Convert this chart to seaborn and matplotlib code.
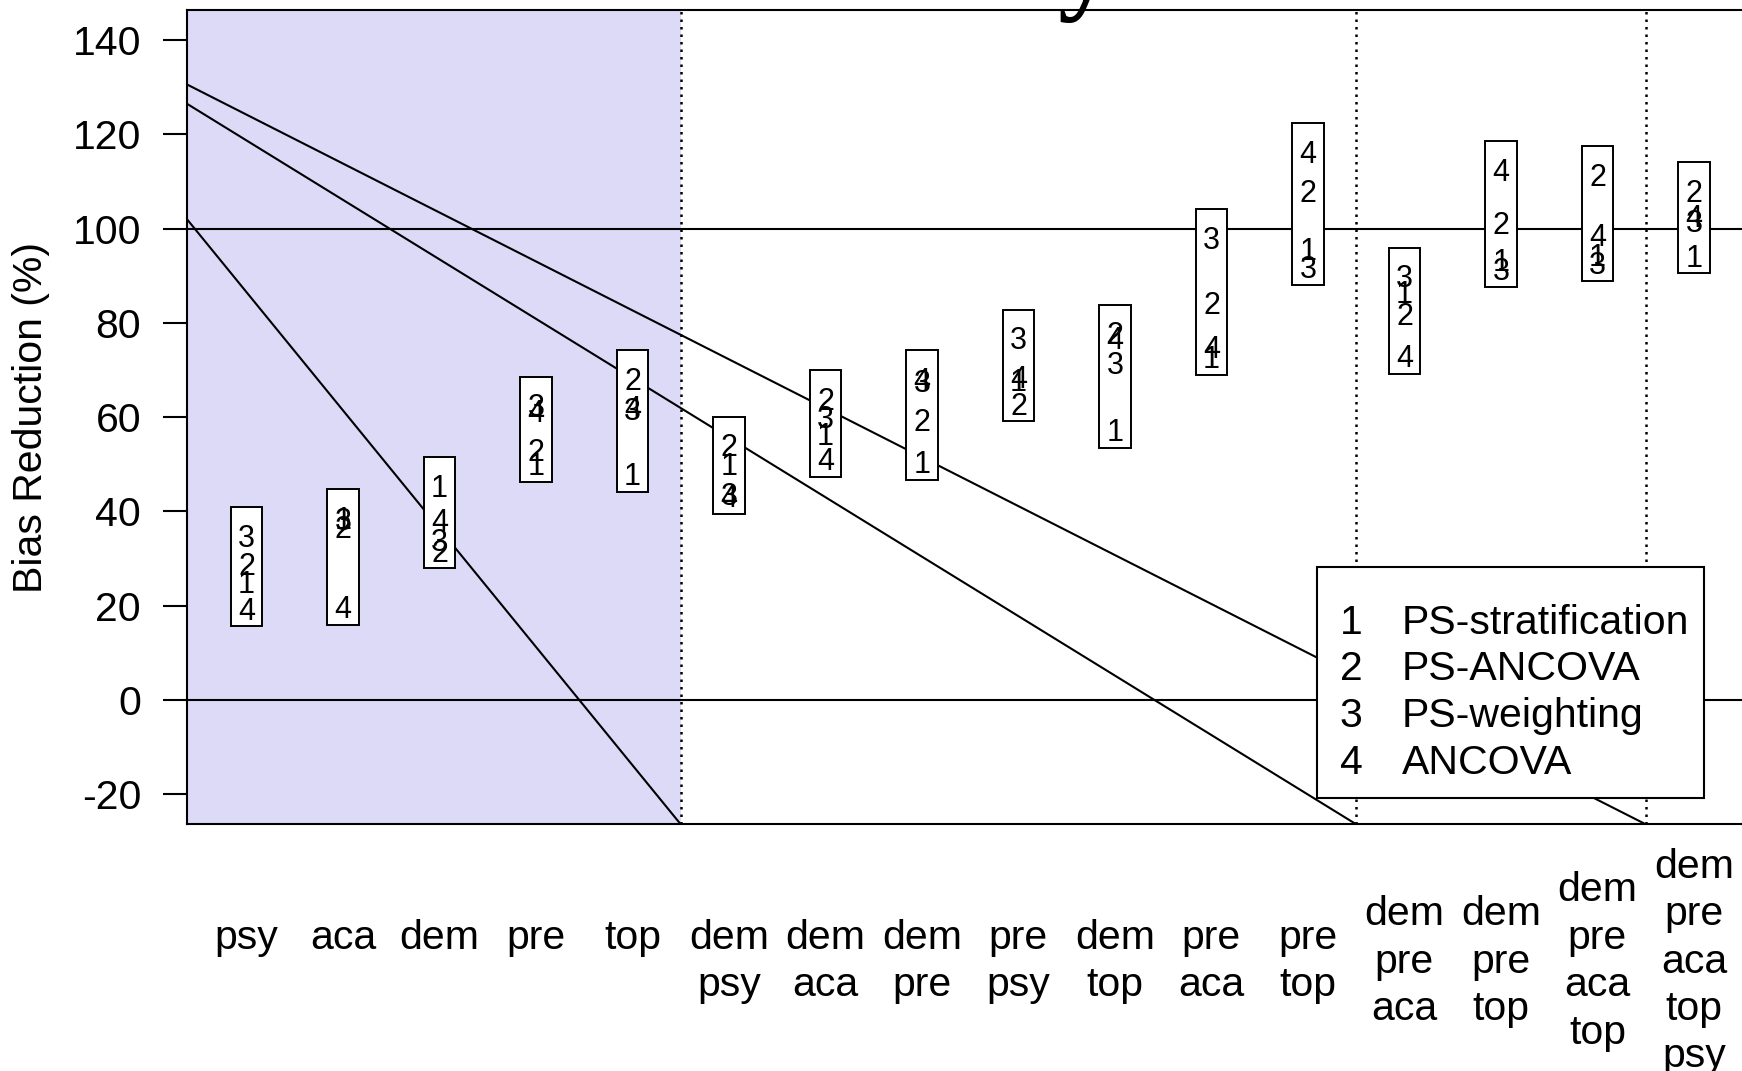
import numpy as np
import pandas as pd
import matplotlib.pyplot as plt
import seaborn as sns
from matplotlib.patches import Rectangle

# covariate sets on the x axis
sets = ["psy", "aca", "dem", "pre", "top",
        "dem\npsy", "dem\naca", "dem\npre", "pre\npsy", "dem\ntop", "pre\naca", "pre\ntop",
        "dem\npre\naca", "dem\npre\ntop", "dem\npre\naca\ntop", "dem\npre\naca\ntop\npsy"]

# bias reduction (%) for each method
ps_strat = [25.1, 38.8, 45.6, 50.2, 48.1, 50.2, 56.6, 50.6, 68.0, 57.3, 72.8, 95.8, 86.7, 93.5, 94.5, 94.4]
ps_ancova = [29.0, 36.8, 31.8, 53.1, 68.2, 54.1, 64.0, 59.4, 63.0, 77.9, 84.4, 108.0, 82.0, 101.3, 111.5, 108.2]
ps_weight = [34.9, 38.5, 34.1, 62.6, 61.8, 43.8, 60.2, 67.7, 76.8, 71.5, 98.2, 91.9, 90.0, 91.5, 92.8, 101.8]
ancova = [19.5, 19.8, 38.2, 61.4, 62.3, 43.3, 51.3, 68.3, 68.6, 77.0, 74.9, 116.4, 73.1, 112.6, 98.8, 102.8]

methods = ["PS-stratification", "PS-ANCOVA", "PS-weighting", "ANCOVA"]

# group separators and the diagonal reference lines
breaks = [5.5, 12.5, 15.5]
diag_start = [102.0, 126.5, 130.6]

sns.set_style("white")
plt.rcParams['font.family'] = ['Liberation Sans', 'DejaVu Sans']
plt.rcParams['axes.unicode_minus'] = False
plt.rcParams['text.color'] = 'black'
plt.rcParams['xtick.color'] = 'black'
plt.rcParams['ytick.color'] = 'black'

W, H = 1742, 1071
fig = plt.figure(figsize=(W / 100, H / 100), dpi=100)
ax = fig.add_axes([187 / W, (H - 824.3) / H, 1564.9 / W, 814.3 / H])

x = np.arange(1, len(sets) + 1)
xlo, xhi = 0.384, 16.6
ylo, yhi = -26.4, 146.4
ax.set_xlim(xlo, xhi)
ax.set_ylim(ylo, yhi)

# shaded single-covariate area
ax.axvspan(xlo, breaks[0], color='#dddaf8', zorder=0, lw=0)
for b in breaks:
    ax.axvline(b, color='black', lw=1.8, ls=(0, (1, 2)), zorder=1)
ax.axhline(0, color='black', lw=1.5, zorder=2)
ax.axhline(100, color='black', lw=1.5, zorder=2)

lines = pd.DataFrame({
    'x': [xlo] * 3 + breaks,
    'y': diag_start + [ylo] * 3,
    'line': [0, 1, 2] * 2,
})
sns.lineplot(data=lines, x='x', y='y', units='line', estimator=None,
             color='black', lw=1.5, ax=ax, zorder=2)

# one box per covariate set, with method numbers at their values
vals = np.array([ps_strat, ps_ancova, ps_weight, ancova])
for i, xi in enumerate(x):
    col = vals[:, i]
    lo, hi = col.min() - 3.9, col.max() + 6.0
    ax.add_patch(Rectangle((xi - 0.165, lo), 0.33, hi - lo, facecolor='white',
                           edgecolor='black', lw=1.4, zorder=3))
    for m, v in enumerate(col):
        ax.text(xi, v, str(m + 1), ha='center', va='center_baseline',
                fontsize=22, zorder=4)

# legend
ax.add_patch(Rectangle((0.7218, 0.0327), 0.9694 - 0.7218, 0.3165 - 0.0327,
                       transform=ax.transAxes, facecolor='white',
                       edgecolor='black', lw=1.5, zorder=5))
for m, name in enumerate(methods):
    yy = 0.2524 - m * 0.0573
    ax.text(0.7438, yy, str(m + 1), transform=ax.transAxes, ha='center',
            va='center_baseline', fontsize=29.5, zorder=6)
    ax.text(0.7764, yy, name, transform=ax.transAxes, ha='left',
            va='center_baseline', fontsize=29.5, zorder=6)

ax.set_xticks(x)
ax.set_xticklabels([s if "\n" in s else s + "\n" for s in sets],
                   va='center', linespacing=1.315, fontsize=29.5)
ax.tick_params(axis='x', length=0, pad=98.8)
ax.set_yticks(np.arange(-20, 141, 20))
ax.tick_params(axis='y', left=True, length=17.3, width=1.5, pad=15.8,
               labelsize=29.5, direction='out', color='black')
ax.set_xlabel("")
ax.set_ylabel("")
for s in ['left', 'bottom', 'top']:
    ax.spines[s].set_color('black')
    ax.spines[s].set_linewidth(1.5)
ax.spines['right'].set_visible(False)

fig.text(31 / W, (H - 417.2) / H, "Bias Reduction (%)", rotation=90,
         ha='center', va='center', fontsize=29.5)
# bottom of the title, cut off by the top edge
fig.text(1058 / W, 1.0, "y", family='Liberation Serif', fontweight='bold',
         fontsize=80, ha='left', va='baseline')

fig.savefig('out.png', dpi=100)
